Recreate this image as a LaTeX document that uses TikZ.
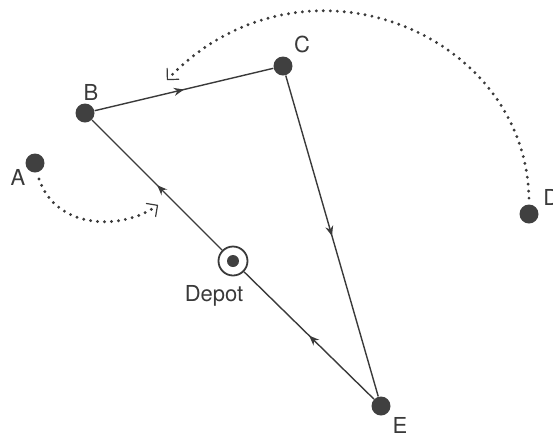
\documentclass[tikz,border=0pt]{standalone}
\usepackage{fontspec}
\setmainfont{TeX Gyre Heros}
\usetikzlibrary{positioning, arrows.meta, decorations.markings}
\definecolor{ink}{HTML}{3A3A3A}
\definecolor{dotgray}{HTML}{404040}

\begin{document}
\begin{tikzpicture}[x=0.5pt, y=-0.5pt,
  stop/.style={circle, fill=dotgray, inner sep=0pt, minimum size=9.5pt},
  depotring/.style={circle, draw=ink, line width=0.9pt, inner sep=0pt, minimum size=14.5pt},
  tag/.style={text=ink, font=\fontsize{11}{13}\selectfont, inner sep=0pt},
  route/.style={draw=ink, line width=0.7pt, postaction={decorate},
    decoration={markings, mark=at position 0.5 with {\arrow{Stealth[length=5pt, width=4pt]}}}},
  move/.style={draw=ink, line width=1.6pt, line cap=round, dash pattern=on 0pt off 3.5pt,
    -{Straight Barb[length=4pt, width=8pt, line width=0.6pt, round]}}
]
\useasboundingbox (0,0) rectangle (553,436);
\clip (0,0) rectangle (553,436);

% Stops
\node[stop] (a) at (35,163) {};
\node[stop] (b) at (85,113) {};
\node[stop] (c) at (283,66) {};
\node[stop] (d) at (529,214) {};
\node[stop] (e) at (381,406) {};
\node[depotring] (depot) at (233,261) {};
\node[circle, fill=dotgray, inner sep=0pt, minimum size=6pt] (depotdot) at (depot.center) {};

% Labels
\node[tag] (laba) at (18,177) {A};
\node[tag] (labb) at (91,92) {B};
\node[tag] (labc) at (302,44) {C};
\node[tag, anchor=west] (labd) at (543,197) {D};
\node[tag] (labe) at (400,425) {E};
\node[tag] (labdepot) at (214,296) {Depot};

% Route
\draw[route] (b) -- (c);
\draw[route] (c) -- (e);
\draw[route] (e) -- (depot);
\draw[route] (depot) -- (b);

% Moves
\coordinate (movea) at (158,205);
\coordinate (moved) at (167,80);
\draw[move] (a.south) ++(4,6) .. controls (55,228) and (120,232) .. (movea);
\draw[move] (d.north) ++(0,-6) .. controls (525,30) and (300,-60) .. (moved);

\end{tikzpicture}
\end{document}
